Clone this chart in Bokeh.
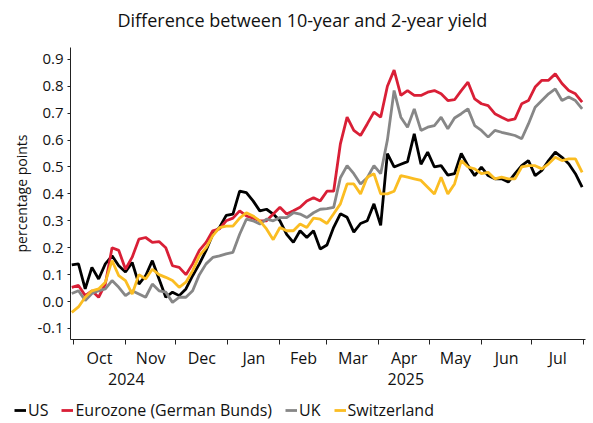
import pandas as pd
from bokeh.plotting import figure
from bokeh.layouts import column
from bokeh.models import (ColumnDataSource, Range1d, FixedTicker, LinearAxis,
                          Legend, LegendItem, NumeralTickFormatter, Label)
from bokeh.embed import file_html
from bokeh.resources import INLINE

# ---- data (spread 10y - 2y, percentage points), sampled every 4 days ----
dates = pd.date_range("2024-09-30", "2025-07-31", freq="4D")

us = [0.136, 0.14, 0.047, 0.127, 0.084, 0.14, 0.17, 0.133, 0.11, 0.145,
      0.065, 0.096, 0.152, 0.084, 0.016, 0.035, 0.022, 0.047, 0.096, 0.14,
      0.19, 0.25, 0.275, 0.32, 0.325, 0.41, 0.405, 0.374, 0.337, 0.343,
      0.325, 0.3, 0.25, 0.22, 0.263, 0.238, 0.263, 0.195, 0.21, 0.276,
      0.326, 0.313, 0.258, 0.29, 0.3, 0.363, 0.283, 0.55, 0.5, 0.51,
      0.52, 0.623, 0.51, 0.555, 0.5, 0.505, 0.47, 0.475, 0.55, 0.505,
      0.468, 0.5, 0.468, 0.456, 0.456, 0.444, 0.475, 0.505, 0.524, 0.468,
      0.487, 0.524, 0.555, 0.536, 0.512, 0.475, 0.425]

ez = [0.053, 0.06, 0.022, 0.04, 0.016, 0.065, 0.2, 0.19, 0.12, 0.165,
      0.232, 0.238, 0.22, 0.223, 0.2, 0.133, 0.127, 0.1, 0.14, 0.19,
      0.22, 0.263, 0.27, 0.3, 0.31, 0.337, 0.318, 0.31, 0.3, 0.3,
      0.325, 0.35, 0.325, 0.337, 0.35, 0.374, 0.386, 0.374, 0.41, 0.41,
      0.586, 0.685, 0.636, 0.617, 0.66, 0.704, 0.685, 0.8, 0.86, 0.766,
      0.784, 0.766, 0.766, 0.778, 0.784, 0.772, 0.747, 0.75, 0.784, 0.815,
      0.753, 0.735, 0.728, 0.698, 0.685, 0.673, 0.679, 0.735, 0.747, 0.797,
      0.822, 0.822, 0.846, 0.81, 0.784, 0.772, 0.741]

uk = [0.03, 0.04, 0.004, 0.03, 0.04, 0.047, 0.078, 0.053, 0.022, 0.04,
      0.028, 0.016, 0.065, 0.04, 0.035, -0.003, 0.016, 0.016, 0.04, 0.1,
      0.14, 0.164, 0.17, 0.177, 0.183, 0.25, 0.306, 0.3, 0.288, 0.306,
      0.3, 0.312, 0.312, 0.33, 0.325, 0.312, 0.33, 0.343, 0.345, 0.35,
      0.46, 0.505, 0.475, 0.437, 0.46, 0.505, 0.475, 0.6, 0.784, 0.685,
      0.648, 0.716, 0.636, 0.648, 0.654, 0.685, 0.642, 0.682, 0.698, 0.716,
      0.654, 0.636, 0.611, 0.636, 0.629, 0.623, 0.617, 0.605, 0.66, 0.722,
      0.747, 0.772, 0.79, 0.747, 0.76, 0.747, 0.716]

ch = [-0.04, -0.02, 0.016, 0.04, 0.047, 0.072, 0.152, 0.096, 0.078, 0.028,
      0.1, 0.084, 0.12, 0.1, 0.09, 0.078, 0.053, 0.072, 0.115, 0.17,
      0.2, 0.245, 0.275, 0.28, 0.28, 0.31, 0.33, 0.318, 0.3, 0.27,
      0.23, 0.275, 0.263, 0.263, 0.288, 0.275, 0.31, 0.306, 0.29, 0.326,
      0.363, 0.437, 0.437, 0.4, 0.462, 0.475, 0.4, 0.4, 0.41, 0.468,
      0.462, 0.456, 0.45, 0.425, 0.4, 0.462, 0.4, 0.437, 0.524, 0.5,
      0.493, 0.475, 0.48, 0.456, 0.462, 0.456, 0.456, 0.5, 0.505, 0.505,
      0.493, 0.512, 0.536, 0.524, 0.53, 0.53, 0.48]

series_cols = ["us", "ez", "uk", "ch"]
series_names = ["US", "Eurozone (German Bunds)", "UK", "Switzerland"]
series_colors = ["#000000", "#d91f36", "#878787", "#fbbd22"]

month_starts = ["2024-10-01", "2024-11-01", "2024-12-01", "2025-01-01",
                "2025-02-01", "2025-03-01", "2025-04-01", "2025-05-01",
                "2025-06-01", "2025-07-01", "2025-08-01"]
month_labels = ["Oct", "Nov", "Dec", "Jan", "Feb", "Mar", "Apr", "May",
                "Jun", "Jul"]
year_labels = ["2024", "2025"]
year_label_dates = ["2024-11-01 12:00", "2025-04-17"]
y_ticks = [-0.1, 0.0, 0.1, 0.2, 0.3, 0.4, 0.5, 0.6, 0.7, 0.8, 0.9]
title_text = "Difference between 10-year and 2-year yield"

FONT = "Open Sans"
TXT = "#111111"


def ms(d):
    return int(pd.Timestamp(d).value // 10**6)


def strip(height, xr=(0, 1), yr=(0, 1)):
    f = figure(width=593, height=height, output_backend="svg",
               toolbar_location=None, x_axis_location=None,
               y_axis_location=None, x_range=Range1d(*xr),
               y_range=Range1d(*yr), min_border_left=0, min_border_right=0,
               min_border_top=0, min_border_bottom=0)
    f.xgrid.visible = False
    f.ygrid.visible = False
    f.outline_line_color = None
    f.frame_align = False
    return f


src = ColumnDataSource(dict(date=dates, us=us, ez=ez, uk=uk, ch=ch))

# ---- title strip ----
top = strip(33, (0, 593), (0, 33))
top.add_layout(Label(x=117, y=14, text=title_text, text_font=FONT,
                     text_font_size="18px", text_color=TXT,
                     text_baseline="middle", text_align="left"))

# ---- main chart ----
p = figure(width=593, height=365, x_axis_type="datetime",
           output_backend="svg", toolbar_location=None,
           x_range=Range1d(ms("2024-09-29 06:00"), ms("2025-08-02")),
           y_range=Range1d(-0.141, 0.944),
           min_border_left=70, min_border_right=8, min_border_top=14,
           min_border_bottom=59)
p.frame_align = False
p.xgrid.visible = False
p.ygrid.visible = False
p.outline_line_color = None
p.background_fill_color = "white"

for col, c in zip(series_cols, series_colors):
    p.line("date", col, source=src, line_color=c, line_width=2.8)

# y axis
ya = p.yaxis[0]
ya.ticker = FixedTicker(ticks=y_ticks)
ya.formatter = NumeralTickFormatter(format="0.0")
ya.axis_label = "percentage points"
ya.axis_label_text_font = FONT
ya.axis_label_text_font_size = "14px"
ya.axis_label_text_font_style = "normal"
ya.axis_label_text_color = TXT
ya.axis_label_standoff = 4
ya.major_label_text_font = FONT
ya.major_label_text_font_size = "15px"
ya.major_label_text_color = TXT
ya.major_label_standoff = 4
ya.major_tick_out = 3
ya.major_tick_in = 0
ya.minor_tick_line_color = None
ya.axis_line_color = "#222222"
ya.major_tick_line_color = "#222222"

# x axis: only tick marks, at the month boundaries
xa = p.xaxis[0]
xa.ticker = FixedTicker(ticks=[], minor_ticks=[ms(d) for d in month_starts])
xa.major_tick_out = 5
xa.major_tick_in = 0
xa.minor_tick_out = 5
xa.minor_tick_in = 0
xa.major_label_standoff = 0
xa.axis_line_color = "#222222"
xa.major_tick_line_color = "#222222"
xa.minor_tick_line_color = "#222222"

# month label axis
mids = [(ms(month_starts[i]) + ms(month_starts[i + 1])) // 2
        for i in range(len(month_labels))]
ma = LinearAxis(ticker=FixedTicker(ticks=mids),
                major_label_overrides={m: l for m, l in zip(mids, month_labels)})
ma.axis_line_color = None
ma.major_tick_line_color = None
ma.minor_tick_line_color = None
ma.major_label_standoff = -4
ma.major_label_text_font = FONT
ma.major_label_text_font_size = "16px"
ma.major_label_text_color = TXT
p.add_layout(ma, "below")

# year label axis
yticks_ms = [ms(d) for d in year_label_dates]
yr = LinearAxis(ticker=FixedTicker(ticks=yticks_ms),
                major_label_overrides={m: l for m, l in zip(yticks_ms, year_labels)})
yr.axis_line_color = None
yr.major_tick_line_color = None
yr.minor_tick_line_color = None
yr.major_label_standoff = -5
yr.major_label_text_font = FONT
yr.major_label_text_font_size = "16px"
yr.major_label_text_color = TXT
p.add_layout(yr, "below")

# ---- legend strip (its lines lie outside its own view range) ----
lg = strip(25)
lg_renderers = [lg.line("date", col, source=src, line_color=c, line_width=2.8)
                for col, c in zip(series_cols, series_colors)]
legend = Legend(items=[LegendItem(label=n, renderers=[r])
                       for n, r in zip(series_names, lg_renderers)],
                orientation="horizontal", location=(14, 2),
                label_text_font=FONT, label_text_font_size="16px",
                label_text_color=TXT, label_height=18,
                glyph_width=12, glyph_height=18, label_standoff=2,
                spacing=13, padding=0, margin=0,
                border_line_color=None, background_fill_alpha=0)
lg.add_layout(legend, "center")

layout = column(top, p, lg, spacing=0)
open("out.html", "w").write(file_html(layout, INLINE))
